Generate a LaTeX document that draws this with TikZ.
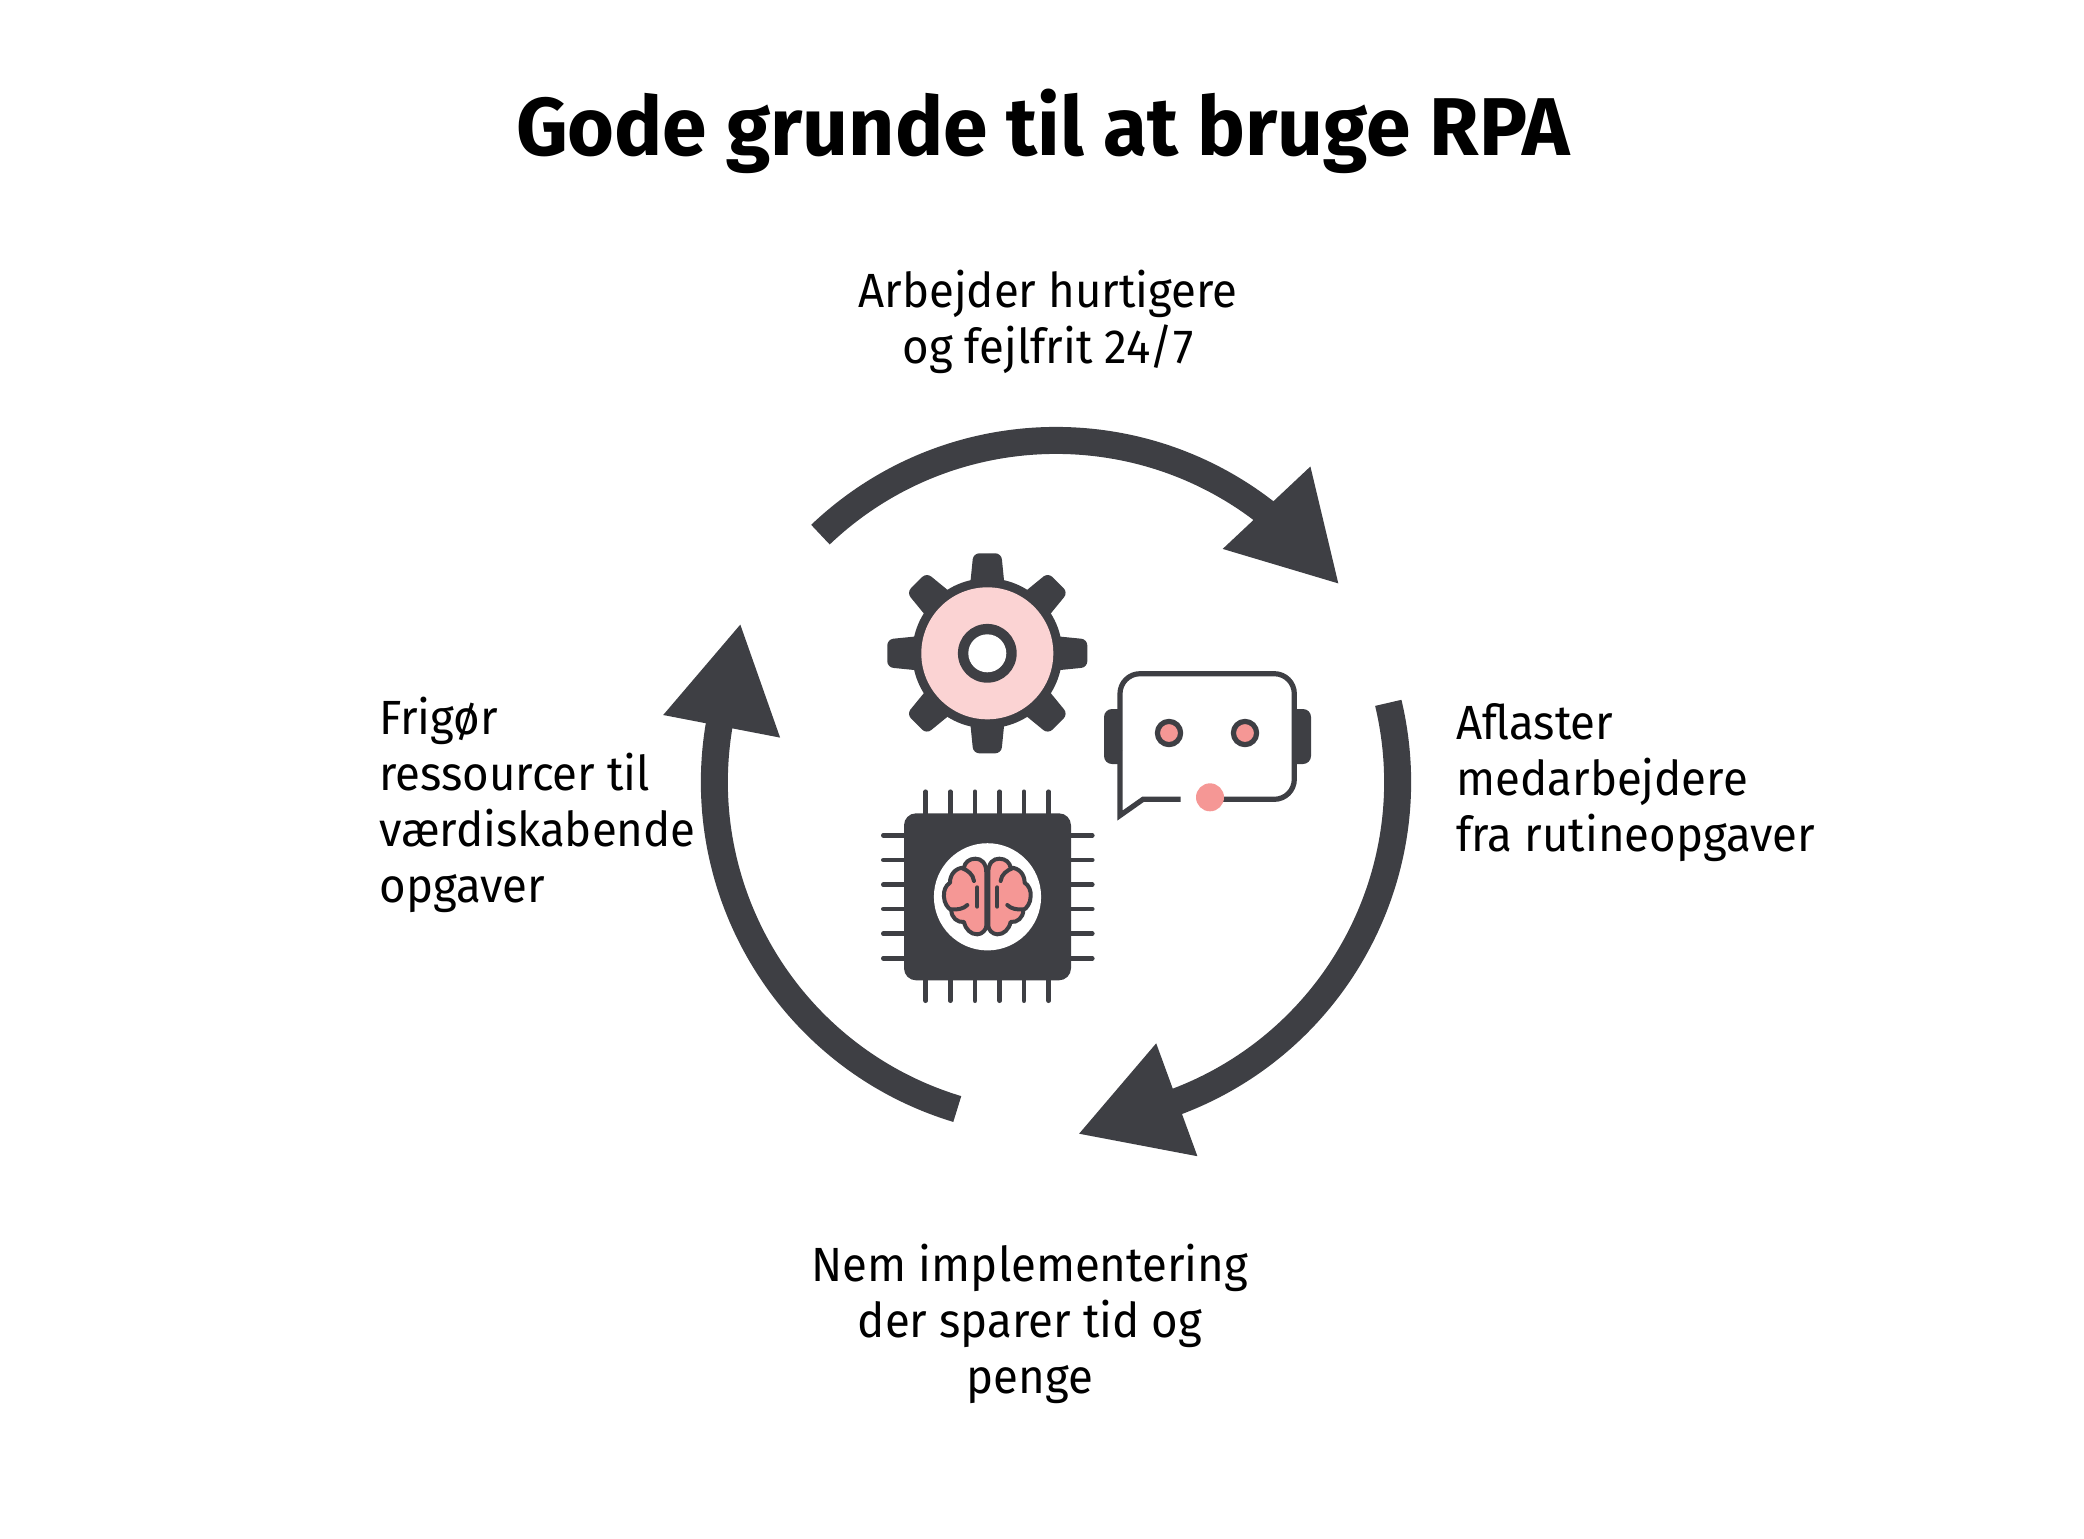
\documentclass[tikz,border=0pt]{standalone}
\usepackage{fontspec}
\usetikzlibrary{calc}
\newfontfamily\labelfont[FakeStretch=0.95]{Fira Sans}
\newfontfamily\titlefont[FakeStretch=0.98]{Fira Sans Bold}
\definecolor{slate}{HTML}{3E3F44}
\definecolor{blush}{HTML}{FBD3D3}
\definecolor{salmon}{HTML}{F59795}
\tikzset{
	caption/.style={inner sep=0, align=center, font=\labelfont\fontsize{24}{28}\selectfont},
	cyclearc/.style={draw=slate, line width=13.5pt},
	cyclehead/.style={fill=slate},
	pin/.style={draw=slate, line width=2.3pt, line cap=round},
	outline/.style={draw=slate, line width=2.6pt, line cap=round, line join=round},
	brainline/.style={outline, line width=2pt}
}

\begin{document}
\begin{tikzpicture}[x=0.5pt, y=-0.5pt]
		\useasboundingbox (0,0) rectangle (2084,1538);

		% Define nodes
		\node[caption, font=\titlefont\fontsize{41}{48}\selectfont] (title) at (1043,131) {Gode grunde til at bruge RPA};
		\node[caption] (faster) at (1048,322) {Arbejder hurtigere\\og fejlfrit 24/7};
		\node[caption, align=left, anchor=west] (relief) at (1456,783) {Aflaster\\medarbejdere\\fra rutineopgaver};
		\node[caption] (easy) at (1030,1324) {Nem implementering\\der sparer tid og\\penge};
		\node[caption, align=left, anchor=west] (free) at (379,805) {Frigør\\ressourcer til\\værdiskabende\\opgaver};
		\coordinate (hub) at (1056,782);

		% Cycle arrows
		\foreach \from/\to in {133.6/50, 13.4/-71, 253.2/168}
			\draw[cyclearc] ($(hub)+(\from:170.8pt)$) arc[start angle=\from, end angle=\to, radius=170.8pt];
		\fill[cyclehead] (1310.4,466.5) -- (1338.3,583.4) -- (1222.7,548.9) -- cycle;
		\fill[cyclehead] (1156.2,1043.3) -- (1197.4,1156.2) -- (1079.1,1133.7) -- cycle;
		\fill[cyclehead] (740.3,624.6) -- (780.1,737.6) -- (663.2,715) -- cycle;

		% Gear
		\begin{scope}[shift={(987.3,653.3)}]
			\foreach \a in {0,45,...,315}
				\fill[slate, rotate=\a, rounded corners=3pt] (-17.5,-65) -- (-14,-100) -- (14,-100) -- (17.5,-65) -- cycle;
			\fill[slate] (0,0) circle[radius=37.5pt];
			\fill[blush] (0,0) circle[radius=33pt];
			\fill[slate] (0,0) circle[radius=14.7pt];
			\fill[white] (0,0) circle[radius=9.5pt];
		\end{scope}

		% Chat bubble
		\fill[slate, rounded corners=4pt] (1104,709) rectangle (1130,764);
		\fill[slate, rounded corners=4pt] (1285,709) rectangle (1311,764);
		\path[fill=white] (1120,700) rectangle (1294,780);
		\draw[outline, line cap=butt, line join=miter] (1180.7,799.3) -- (1143,799.3) -- (1120,815.5) -- (1120,750);
		\draw[outline, line cap=butt, rounded corners=10pt] (1120,750) -- (1120,673.7) -- (1294.3,673.7) -- (1294.3,799.3) -- (1210,799.3);
		\fill[salmon] (1210,797.3) circle[radius=7pt];
		\foreach \x in {1169,1245}
			\draw[outline, fill=salmon] (\x,733) circle[radius=5.8pt];

		% Chip
		\foreach \x in {925.7,950.3,975,999.7,1024,1048.7}
			\draw[pin] (\x,791.7) -- (\x,1000.7);
		\foreach \y in {835.3,860,884.7,909,933.7,958.3}
			\draw[pin] (883.3,\y) -- (1092.3,\y);
		\fill[slate, rounded corners=6pt] (904,813.3) rectangle (1071,980.3);
		\fill[white] (987.5,896.8) circle[radius=26.8pt];

		% Brain
		\foreach \side in {1,-1} {
			\begin{scope}[shift={(987.3,896)}, xscale=\side*0.3333, yscale=0.3333]
				\draw[brainline, fill=salmon] (3,-70) .. controls (3,-100) and (18,-112) .. (36,-112)
					.. controls (55,-112) and (68,-100) .. (70,-85)
					.. controls (95,-85) and (112,-65) .. (112,-40)
					.. controls (125,-32) and (132,-15) .. (130,2)
					.. controls (130,20) and (118,38) .. (108,42)
					.. controls (108,65) and (90,80) .. (70,78)
					.. controls (65,100) and (50,115) .. (30,115)
					.. controls (15,115) and (3,100) .. (3,90) -- cycle;
				\draw[brainline] (40,-45) .. controls (42,-65) and (60,-78) .. (75,-83);
				\draw[brainline] (60,27) .. controls (70,38) and (90,42) .. (108,40);
				\draw[brainline] (30,-26) -- (30,32);
			\end{scope}
		}
	\end{tikzpicture}
\end{document}
